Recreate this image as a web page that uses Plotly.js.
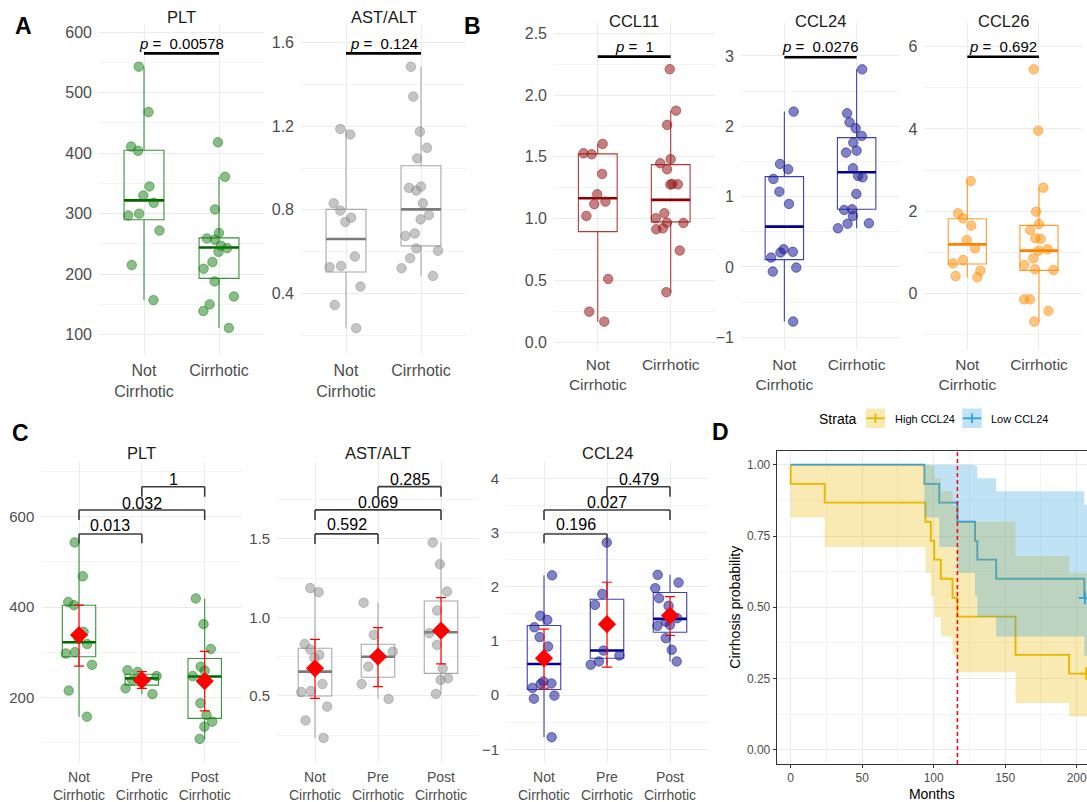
<!DOCTYPE html>
<html><head><meta charset="utf-8">
<script src="https://cdn.plot.ly/plotly-3.0.1.min.js"></script>
<style>html,body{margin:0;padding:0;background:#fff;}#chart{width:1087px;height:802px;}</style>
</head><body><div id="chart"></div>
<script>
// ================= DATA =================
const catsTwo = ['Not<br>Cirrhotic', 'Cirrhotic'];
const catsThree = ['Not<br>Cirrhotic', 'Pre<br>Cirrhotic', 'Post<br>Cirrhotic'];

// ---- Panel A ----
const pltNot  = [543, 468, 411, 404, 345, 330, 318, 300, 297, 272, 215, 157];
const pltCirr = [418, 361, 307, 268, 259, 257, 247, 243, 237, 220, 209, 188, 163, 150, 139, 111];
const pltBoxA = {q1: [290, 193], med: [322, 244], q3: [405, 260], lo: [157, 111], hi: [543, 361]};
const astNot  = [1.187, 1.161, 0.831, 0.796, 0.762, 0.742, 0.576, 0.531, 0.525, 0.432, 0.344, 0.233];
const astCirr = [1.485, 1.342, 1.174, 1.097, 1.046, 0.911, 0.905, 0.892, 0.831, 0.775, 0.754, 0.687, 0.675, 0.615, 0.604, 0.568, 0.520, 0.483];
const astBoxA = {q1: [0.502, 0.627], med: [0.66, 0.802], q3: [0.802, 1.011], lo: [0.233, 0.483], hi: [1.187, 1.485]};
const pValuesA = ['0.00578', '0.124'];

// ---- Panel B ----
const ccl11Not  = [1.605, 1.529, 1.521, 1.362, 1.197, 1.138, 1.117, 1.022, 0.512, 0.248, 0.167];
const ccl11Cirr = [2.209, 1.874, 1.758, 1.481, 1.448, 1.400, 1.281, 1.278, 1.276, 1.044, 1.003, 0.968, 0.965, 0.922, 0.914, 0.742, 0.405];
const ccl11Box  = {q1: [0.895, 0.974], med: [1.165, 1.152], q3: [1.524, 1.437], lo: [0.167, 0.405], hi: [1.605, 1.874]};
const ccl24Not  = [2.209, 1.464, 1.389, 1.251, 1.071, 0.896, 0.251, 0.215, 0.205, 0.133, -0.009, -0.066, -0.777];
const ccl24Cirr = [2.81, 2.185, 2.057, 1.972, 1.863, 1.768, 1.654, 1.626, 1.403, 1.294, 1.275, 1.038, 0.82, 0.81, 0.725, 0.621, 0.615, 0.55];
const ccl24BoxB = {q1: [0.104, 0.82], med: [0.573, 1.346], q3: [1.284, 1.839], lo: [-0.777, 0.55], hi: [2.209, 2.81]};
const ccl26Not  = [2.732, 1.945, 1.823, 1.645, 1.296, 1.093, 0.809, 0.728, 0.55, 0.42, 0.39];
const ccl26Cirr = [5.449, 3.956, 2.569, 1.985, 1.685, 1.539, 1.337, 1.325, 1.069, 1.037, 0.85, 0.688, 0.582, 0.566, -0.147, -0.15, -0.431, -0.69];
const ccl26Box  = {q1: [0.712, 0.558], med: [1.191, 1.037], q3: [1.815, 1.653], lo: [0.39, -0.69], hi: [2.732, 2.569]};
const pValuesB = ['1', '0.0276', '0.692'];

// ---- Panel C ----
const pltPre  = [260, 256, 247, 238, 220, 207];
const pltPost = [419, 362, 307, 268, 259, 247, 187, 161, 146, 135, 108];
const pltBoxC = {q1: [290, 227, 153.5], med: [322, 242, 246], q3: [404, 251, 286], lo: [157, 207, 108], hi: [543, 260, 419]};
const pltMeanC = [338, 238, 236];
const pltCiLowC = [269, 220, 170];
const pltCiHighC = [404, 257, 302];
const pltPairP = ['0.013', '0.032', '1'];

const astPre  = [1.094, 0.889, 0.782, 0.687, 0.576, 0.481];
const astPost = [1.477, 1.339, 1.165, 1.044, 0.91, 0.90, 0.825, 0.676, 0.613, 0.602, 0.513];
const astBoxC = {q1: [0.5, 0.619, 0.644], med: [0.655, 0.75, 0.906], q3: [0.804, 0.829, 1.105], lo: [0.233, 0.481, 0.513], hi: [1.187, 1.094, 1.477]};
const astMeanC = [0.676, 0.751, 0.916];
const astCiLowC = [0.485, 0.559, 0.704];
const astCiHighC = [0.861, 0.935, 1.126];
const astPairP = ['0.592', '0.069', '0.285'];

const ccl24Pre  = [2.814, 1.867, 1.664, 0.822, 0.73, 0.62, 0.56];
const ccl24Post = [2.218, 2.076, 1.972, 1.787, 1.646, 1.419, 1.357, 1.296, 1.277, 1.05, 0.835, 0.62];
const ccl24BoxC = {q1: [0.104, 0.681, 1.16], med: [0.573, 0.822, 1.406], q3: [1.284, 1.769, 1.892], lo: [-0.777, 0.56, 0.62], hi: [2.209, 2.814, 2.218]};
const ccl24MeanC = [0.681, 1.308, 1.468];
const ccl24CiLowC = [0.128, 0.515, 1.099];
const ccl24CiHighC = [1.216, 2.082, 1.818];
const ccl24PairP = ['0.196', '0.027', '0.479'];
const pairs = [[0, 1], [0, 2], [1, 2]];

// ---- Panel D (Kaplan-Meier) ----
const highTime  = [0, 0, 23.8, 94.2, 98, 100.4, 105, 113.2, 116.6, 157.2, 194.7, 212];
const highSurv  = [1, 0.933, 0.867, 0.8, 0.733, 0.667, 0.6, 0.533, 0.467, 0.333, 0.267, 0.267];
const highUpper = [1, 1, 1, 1, 0.995, 0.953, 0.907, 0.856, 0.80, 0.68, 0.62, 0.62];
const highLower = [1, 0.815, 0.711, 0.621, 0.540, 0.466, 0.397, 0.332, 0.272, 0.164, 0.117, 0.117];
const lowTime   = [0, 93.5, 103.9, 116.6, 128.9, 130.5, 143.7, 205.3, 212];
const lowSurv   = [1, 0.933, 0.867, 0.8, 0.733, 0.667, 0.6, 0.533, 0.533];
const lowUpper  = [1, 1, 1, 1, 0.995, 0.953, 0.907, 0.86, 0.86];
const lowLower  = [1, 0.815, 0.711, 0.621, 0.540, 0.466, 0.397, 0.33, 0.33];
const censorHighTime = [206.6], censorHighSurv = [0.267];
const censorLowTime  = [205.8], censorLowSurv  = [0.533];
const medianCutMonths = [116.6];
const strataNames = ['High CCL24', 'Low CCL24'];

// ================= LAYOUT HELPERS =================
const W = 1087, H = 802;
const fx = p => p / W;
const fy = p => 1 - p / H;
const FONT = 'Liberation Sans, Arial, sans-serif';
const GRID = '#EBEBEB', GRID_MINOR = '#F3F3F3', TICK = '#4D4D4D';

const traces = [];
const layout = {
  width: W, height: H, margin: {l: 0, r: 0, t: 0, b: 0},
  paper_bgcolor: '#ffffff', plot_bgcolor: 'rgba(0,0,0,0)',
  showlegend: false, boxmode: 'overlay', boxgap: 0.24,
  font: {family: FONT, color: '#000'},
  shapes: [], annotations: []
};

const PAL = {
  green:  {box: '#3A913A', med: '#006400', pt: 'rgba(20,125,20,0.5)'},
  gray:   {box: '#A8A8A8', med: '#7A7A7A', pt: 'rgba(140,140,140,0.5)'},
  red:    {box: '#B03A3A', med: '#8B0000', pt: 'rgba(150,25,25,0.55)'},
  blue:   {box: '#4040AE', med: '#00008B', pt: 'rgba(25,25,150,0.55)'},
  orange: {box: '#FF9A30', med: '#FF7F00', pt: 'rgba(255,140,0,0.5)'}
};

function ids(ax) {
  const s = ax === 1 ? '' : String(ax);
  return {xr: 'x' + s, yr: 'y' + s, xk: 'xaxis' + s, yk: 'yaxis' + s};
}

function boxPanel(p) {
  const {xr, yr, xk, yk} = ids(p.ax);
  const n = p.cats.length;
  layout[xk] = {
    domain: [fx(p.xPx[0]), fx(p.xPx[1])], anchor: yr, type: 'category',
    categoryorder: 'array', categoryarray: p.cats, range: [-0.6, n - 0.4],
    showgrid: true, gridcolor: GRID, gridwidth: 1, zeroline: false, showline: false, ticks: '',
    tickfont: {size: p.xFont, color: TICK, family: FONT}, fixedrange: true,
    ticklabelstandoff: p.xStand
  };
  layout[yk] = {
    domain: [fy(p.yPx[1]), fy(p.yPx[0])], anchor: xr, range: p.yRange,
    tick0: p.tick0, dtick: p.dtick, tickformat: p.fmt,
    showgrid: true, gridcolor: GRID, gridwidth: 1, zeroline: false, showline: false, ticks: '',
    minor: {tick0: p.tick0, dtick: p.minor, showgrid: true, gridcolor: GRID_MINOR, gridwidth: 1},
    tickfont: {size: p.yFont, color: TICK, family: FONT}, fixedrange: true,
    ticklabelstandoff: p.yStand
  };
  const base = {type: 'box', xaxis: xr, yaxis: yr, hoverinfo: 'skip', whiskerwidth: 0, fillcolor: 'rgba(0,0,0,0)'};
  traces.push(Object.assign({}, base, {
    x: p.cats, q1: p.box.q1, median: p.box.med, q3: p.box.q3,
    lowerfence: p.box.lo, upperfence: p.box.hi, boxpoints: false,
    line: {color: p.pal.box, width: 1.1}
  }));
  traces.push(Object.assign({}, base, {
    x: p.cats, q1: p.box.med, median: p.box.med, q3: p.box.med,
    lowerfence: p.box.med, upperfence: p.box.med, boxpoints: false,
    line: {color: p.pal.med, width: 2.6}
  }));
  const xs = [], ys = [];
  p.groups.forEach((g, i) => g.forEach(v => { xs.push(p.cats[i]); ys.push(v); }));
  traces.push(Object.assign({}, base, {
    x: xs, y: ys, boxpoints: 'all', jitter: 1.0, pointpos: 0,
    line: {width: 0, color: 'rgba(0,0,0,0)'},
    marker: {size: 9.5, color: p.pal.pt, line: {width: 1, color: p.pal.pt}}
  }));
  // subplot title
  layout.annotations.push({
    xref: 'paper', yref: 'paper', x: fx((p.xPx[0] + p.xPx[1]) / 2), y: fy(p.titleY),
    text: p.title, showarrow: false, xanchor: 'center', yanchor: 'middle',
    font: {size: p.titleSize, color: '#1A1A1A', family: FONT}
  });
  if (p.means) {
    traces.push({
      type: 'scatter', mode: 'markers', xaxis: xr, yaxis: yr, hoverinfo: 'skip',
      x: p.cats, y: p.means,
      error_y: {type: 'data', symmetric: false,
        array: p.ciHigh.map((v, i) => v - p.means[i]),
        arrayminus: p.means.map((v, i) => v - p.ciLow[i]),
        color: '#FF0000', thickness: 1.2, width: 5},
      marker: {symbol: 'diamond', size: 14, color: '#FF0000'}
    });
  }
}

function topBracket(ax, yLine, yText, pv) {
  const {xr, yr} = ids(ax);
  layout.shapes.push({type: 'line', xref: xr, yref: yr, x0: 0, x1: 1, y0: yLine, y1: yLine,
    line: {color: '#000', width: 2.6}});
  layout.annotations.push({xref: xr, yref: yr, x: 0.5, y: yText, yanchor: 'middle', showarrow: false,
    text: '<i>p</i> =  ' + pv, font: {size: 15, color: '#000', family: FONT}});
}

function pairBrackets(ax, labels, lines, tips, texts) {
  const {xr, yr} = ids(ax);
  pairs.forEach((pr, i) => {
    const st = {color: '#3C3C3C', width: 1.6};
    layout.shapes.push({type: 'line', xref: xr, yref: yr, x0: pr[0], x1: pr[1], y0: lines[i], y1: lines[i], line: st});
    layout.shapes.push({type: 'line', xref: xr, yref: yr, x0: pr[0], x1: pr[0], y0: tips[i], y1: lines[i], line: st});
    layout.shapes.push({type: 'line', xref: xr, yref: yr, x0: pr[1], x1: pr[1], y0: tips[i], y1: lines[i], line: st});
    layout.annotations.push({xref: xr, yref: yr, x: (pr[0] + pr[1]) / 2, y: texts[i], yanchor: 'middle',
      showarrow: false, text: labels[i], font: {size: 16, color: '#000', family: FONT}});
  });
}

// ================= PANELS A & B =================
const topA = {yPx: [25, 355], titleY: 17.3, titleSize: 16.5, xFont: 16, yFont: 16, xStand: 4, yStand: 6};
const topB = {yPx: [23, 350], titleY: 20.7, titleSize: 16.5, xFont: 15.5, yFont: 16, xStand: 3, yStand: 6};

boxPanel(Object.assign({}, topA, {ax: 1, cats: catsTwo, groups: [pltNot, pltCirr], box: pltBoxA, pal: PAL.green,
  xPx: [99, 264], yRange: [66.3, 612], tick0: 100, dtick: 100, minor: 50, fmt: 'd', title: 'PLT'}));
boxPanel(Object.assign({}, topA, {ax: 2, cats: catsTwo, groups: [astNot, astCirr], box: astBoxA, pal: PAL.gray,
  xPx: [301, 466], yRange: [0.1045, 1.685], tick0: 0, dtick: 0.4, minor: 0.2, fmt: '.1f', title: 'AST/ALT'}));
boxPanel(Object.assign({}, topB, {ax: 3, cats: catsTwo, groups: [ccl11Not, ccl11Cirr], box: ccl11Box, pal: PAL.red,
  xPx: [554, 714.5], yRange: [-0.0623, 2.583], tick0: 0, dtick: 0.5, minor: 0.25, fmt: '.1f', title: 'CCL11'}));
boxPanel(Object.assign({}, topB, {ax: 4, cats: catsTwo, groups: [ccl24Not, ccl24Cirr], box: ccl24BoxB, pal: PAL.blue,
  xPx: [741, 900], yRange: [-1.181, 3.469], tick0: 0, dtick: 1, minor: 0.5, fmt: 'd', title: 'CCL24'}));
boxPanel(Object.assign({}, topB, {ax: 5, cats: catsTwo, groups: [ccl26Not, ccl26Cirr], box: ccl26Box, pal: PAL.orange,
  xPx: [924.3, 1082], yRange: [-1.38, 6.577], tick0: 0, dtick: 2, minor: 1, fmt: 'd', title: 'CCL26'}));

topBracket(1, 565, 581.8, pValuesA[0]);
topBracket(2, 1.549, 1.597, pValuesA[1]);
topBracket(3, 2.311, 2.392, pValuesB[0]);
topBracket(4, 2.982, 3.132, pValuesB[1]);
topBracket(5, 5.757, 6.0, pValuesB[2]);

// ================= PANEL C =================
const rowC = {yPx: [461.7, 763], titleY: 453.3, titleSize: 16.5, xFont: 14, yFont: 15, xStand: 4, yStand: 6};
boxPanel(Object.assign({}, rowC, {ax: 6, cats: catsThree, groups: [pltNot, pltPre, pltPost], box: pltBoxC, pal: PAL.green,
  xPx: [41.3, 242.4], yRange: [54.6, 721.8], tick0: 0, dtick: 200, minor: 100, fmt: 'd', title: 'PLT',
  means: pltMeanC, ciLow: pltCiLowC, ciHigh: pltCiHighC}));
boxPanel(Object.assign({}, rowC, {ax: 7, cats: catsThree, groups: [astNot, astPre, astPost], box: astBoxC, pal: PAL.gray,
  xPx: [277.2, 478.8], yRange: [0.073, 1.992], tick0: 0, dtick: 0.5, minor: 0.25, fmt: '.1f', title: 'AST/ALT',
  means: astMeanC, ciLow: astCiLowC, ciHigh: astCiHighC}));
boxPanel(Object.assign({}, rowC, {ax: 8, cats: catsThree, groups: [ccl24Not, ccl24Pre, ccl24Post], box: ccl24BoxC, pal: PAL.blue,
  xPx: [506.2, 707.8], yRange: [-1.253, 4.306], tick0: 0, dtick: 1, minor: 0.5, fmt: 'd', title: 'CCL24',
  means: ccl24MeanC, ciLow: ccl24CiLowC, ciHigh: ccl24CiHighC}));

pairBrackets(6, pltPairP, [561.7, 614.8, 666.4], [541.1, 592.7, 644.3], [581.6, 629.7, 682.8]);
pairBrackets(7, astPairP, [1.532, 1.685, 1.833], [1.468, 1.621, 1.769], [1.589, 1.731, 1.880]);
pairBrackets(8, ccl24PairP, [2.973, 3.415, 3.845], [2.801, 3.231, 3.661], [3.139, 3.550, 3.982]);

// ================= PANEL D =================
const GOLD = '#E7B800', BLUE = '#2E9FDF';
const GOLD_BAND = 'rgba(231,184,0,0.3)', BLUE_BAND = 'rgba(46,159,223,0.3)';
const dX = 'x9', dY = 'y9';
layout.xaxis9 = {
  domain: [fx(776.7), 1], anchor: dY, range: [-9.76, 207.2], tick0: 0, dtick: 50,
  showgrid: true, gridcolor: GRID, zeroline: false,
  minor: {tick0: 0, dtick: 25, showgrid: true, gridcolor: GRID_MINOR},
  showline: true, mirror: true, linecolor: '#333333', linewidth: 1,
  ticks: 'outside', ticklen: 3, tickcolor: '#333333', ticklabeloverflow: 'allow',
  tickfont: {size: 12, color: TICK, family: FONT}, fixedrange: true,
  title: {text: 'Months', font: {size: 14, color: '#000', family: FONT}, standoff: 4}
};
layout.yaxis9 = {
  domain: [fy(764), fy(450.5)], anchor: dX, range: [-0.05, 1.05], tick0: 0, dtick: 0.25, tickformat: '.2f',
  showgrid: true, gridcolor: GRID, zeroline: false,
  minor: {tick0: 0, dtick: 0.125, showgrid: true, gridcolor: GRID_MINOR},
  showline: true, mirror: false, linecolor: '#333333', linewidth: 1,
  ticks: 'outside', ticklen: 3, tickcolor: '#333333',
  tickfont: {size: 12, color: TICK, family: FONT}, fixedrange: true,
  title: {text: 'Cirrhosis probability', font: {size: 14, color: '#000', family: FONT}, standoff: 3}
};
const dBase = {type: 'scatter', xaxis: dX, yaxis: dY, hoverinfo: 'skip'};
traces.push(Object.assign({}, dBase, {mode: 'lines', x: highTime, y: highSurv, line: {shape: 'hv', color: GOLD, width: 1.9}}));
traces.push(Object.assign({}, dBase, {mode: 'lines', x: lowTime, y: lowSurv, line: {shape: 'hv', color: BLUE, width: 1.9}}));
traces.push(Object.assign({}, dBase, {mode: 'lines', x: highTime, y: highLower, line: {shape: 'hv', width: 0, color: 'rgba(0,0,0,0)'}}));
traces.push(Object.assign({}, dBase, {mode: 'lines', x: highTime, y: highUpper, line: {shape: 'hv', width: 0, color: 'rgba(0,0,0,0)'}, fill: 'tonexty', fillcolor: GOLD_BAND}));
traces.push(Object.assign({}, dBase, {mode: 'lines', x: lowTime, y: lowLower, line: {shape: 'hv', width: 0, color: 'rgba(0,0,0,0)'}}));
traces.push(Object.assign({}, dBase, {mode: 'lines', x: lowTime, y: lowUpper, line: {shape: 'hv', width: 0, color: 'rgba(0,0,0,0)'}, fill: 'tonexty', fillcolor: BLUE_BAND}));
traces.push(Object.assign({}, dBase, {mode: 'markers', x: censorHighTime, y: censorHighSurv, cliponaxis: true,
  marker: {symbol: 'cross-thin', size: 9, line: {width: 1.8, color: GOLD}}}));
traces.push(Object.assign({}, dBase, {mode: 'markers', x: censorLowTime, y: censorLowSurv, cliponaxis: true,
  marker: {symbol: 'cross-thin', size: 9, line: {width: 1.8, color: BLUE}}}));

layout.shapes.push({type: 'line', xref: dX, yref: 'y9 domain', x0: medianCutMonths[0], x1: medianCutMonths[0], y0: 0, y1: 1,
  layer: 'above', line: {color: '#FF0000', width: 1.5, dash: '4px,3px'}});

// legend for D (drawn as key boxes + real text)
const legendKeys = [{x0: 865.7, color: GOLD, band: GOLD_BAND, textX: 893}, {x0: 962.3, color: BLUE, band: BLUE_BAND, textX: 989.5}];
legendKeys.forEach((k, i) => {
  layout.shapes.push({type: 'rect', xref: 'paper', yref: 'paper', x0: fx(k.x0), x1: fx(k.x0 + 19.5), y0: fy(428), y1: fy(408.5),
    fillcolor: k.band, line: {width: 0}});
  layout.shapes.push({type: 'line', xref: 'paper', yref: 'paper', x0: fx(k.x0 + 0.5), x1: fx(k.x0 + 19), y0: fy(418.3), y1: fy(418.3),
    line: {color: k.color, width: 1.8}});
  layout.shapes.push({type: 'line', xref: 'paper', yref: 'paper', x0: fx(k.x0 + 9.75), x1: fx(k.x0 + 9.75), y0: fy(413.5), y1: fy(423),
    line: {color: k.color, width: 1.8}});
  layout.annotations.push({xref: 'paper', yref: 'paper', x: fx(k.textX), y: fy(418.8), xanchor: 'left', yanchor: 'middle',
    showarrow: false, text: strataNames[i], font: {size: 11, color: '#000', family: FONT}});
});
layout.annotations.push({xref: 'paper', yref: 'paper', x: fx(838.3), y: fy(419.3), xanchor: 'center', yanchor: 'middle',
  showarrow: false, text: 'Strata', font: {size: 14, color: '#000', family: FONT}});

// panel letters
[['A', 23.3, 25.8], ['B', 472.5, 25.8], ['C', 20.8, 432.5], ['D', 720, 431.7]].forEach(l => {
  layout.annotations.push({xref: 'paper', yref: 'paper', x: fx(l[1]), y: fy(l[2]), xanchor: 'center', yanchor: 'middle',
    showarrow: false, text: '<b>' + l[0] + '</b>', font: {size: 23, color: '#000', family: FONT}});
});

Plotly.newPlot('chart', traces, layout, {displayModeBar: false, staticPlot: true});
</script></body></html>
